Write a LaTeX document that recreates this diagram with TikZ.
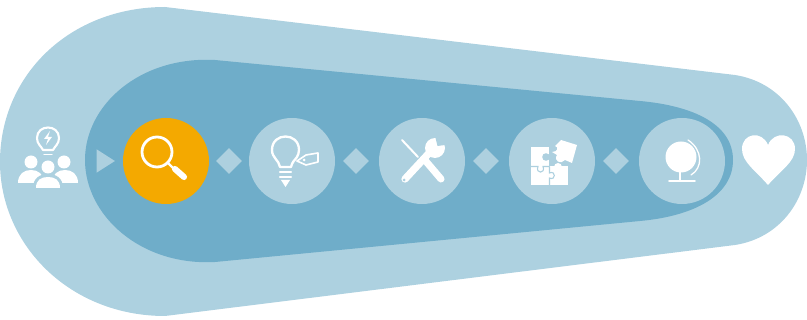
\documentclass[tikz,border=0pt]{standalone}
\usepackage{xcolor}
\usetikzlibrary{shapes.geometric}
\definecolor{funnelout}{HTML}{ADD1E0}
\definecolor{funnelin}{HTML}{6FADC9}
\definecolor{paleblue}{HTML}{ADD0DF}
\definecolor{amber}{HTML}{F4A900}
\tikzset{
 stage/.style={circle,fill=paleblue,inner sep=0pt,minimum size=2.58cm},
 link/.style={diamond,fill=paleblue,inner sep=0pt,minimum size=0.78cm},
 icon/.style={fill=white,draw=none},
 iconline/.style={draw=white,line width=1.8pt,line cap=round,line join=round},
 cut/.style={draw=paleblue,line width=0.9pt}
}
\begin{document}
\begin{tikzpicture}[x=0.03cm,y=-0.03cm]
\useasboundingbox (0,0) rectangle (807,320);
\fill[funnelout] (165,7) -- (735,75) .. controls (780,82) and (807,120) .. (807,160) .. controls (807,200) and (780,238) .. (735,245) -- (165,316) .. controls (70,316) and (0,245) .. (0,162) .. controls (0,75) and (70,7) .. (165,7) -- cycle;
\fill[funnelin] (215,60) -- (640,101) .. controls (695,106) and (733,125) .. (733,160) .. controls (733,195) and (695,216) .. (640,221) -- (215,262) .. controls (140,266) and (85,215) .. (85,160) .. controls (85,105) and (140,56) .. (215,60) -- cycle;
\node[isosceles triangle,isosceles triangle apex angle=65,fill=paleblue,inner sep=0pt,minimum height=0.54cm,minimum width=0.7cm] (start) at (103,161) {};
\node[stage,fill=amber] (search) at (166,161) {};
\node[stage] (idea) at (292,161) {};
\node[stage] (tools) at (422,161) {};
\node[stage] (puzzle) at (552,161) {};
\node[stage] (globe) at (682,161) {};
\node[link] (linka) at (229,161) {};
\node[link] (linkb) at (356,161) {};
\node[link] (linkc) at (486,161) {};
\node[link] (linkd) at (616,161) {};
% people with bulb
\draw[iconline] (43,150) .. controls (41,146) and (37,144) .. (37,138) .. controls (37,124) and (59,124) .. (59,138) .. controls (59,144) and (55,146) .. (53,150) -- cycle;
\draw[iconline,line width=1pt] (44,154.5) -- (52,154.5);
\fill[icon] (50,131) -- (44,139) -- (48,139) -- (46,145) -- (52,137) -- (48,137) -- cycle;
\fill[icon] (31,162) circle (6.5);
\fill[icon] (64,162) circle (6.5);
\fill[icon] (18,183) .. controls (18,174) and (24,170) .. (31,170) .. controls (38,170) and (44,174) .. (44,183) -- cycle;
\fill[icon] (52,183) .. controls (52,174) and (58,170) .. (65,170) .. controls (72,170) and (78,174) .. (78,183) -- cycle;
\fill[funnelout] (48,167) circle (8.5);
\fill[funnelout] (33,188) .. controls (33,178) and (40,174) .. (48,174) .. controls (56,174) and (63,178) .. (63,188) -- cycle;
\fill[icon] (48,167) circle (6.5);
\fill[icon] (36,188) .. controls (36,180) and (41,177) .. (48,177) .. controls (55,177) and (60,180) .. (60,188) -- cycle;
% magnifier
\draw[iconline,line width=2.4pt] (157,152) circle (15);
\draw[iconline,line width=2pt] (168,163) -- (173,168);
\draw[iconline,line width=5.2pt] (175,169) -- (184,177);
% bulb with tag
\draw[iconline,line width=2pt] (280,167) .. controls (279,160) and (272,158) .. (272,150) .. controls (272,132) and (299,132) .. (299,150) .. controls (299,153) and (298,155) .. (297,157) .. controls (295,160) and (292,162) .. (291,167) -- cycle;
\draw[iconline,fill=paleblue,line width=1.4pt] (297,161) -- (306,155) -- (318,153) -- (318,162) -- (306,165) -- cycle;
\fill[icon] (304,160) circle (1.5);
\draw[iconline,line width=2.1pt] (280,172) -- (291,172);
\draw[iconline,line width=2.1pt] (280,177) -- (291,177);
\fill[icon] (281,180) -- (290,180) -- (285.5,187) -- cycle;
% screwdriver and wrench
\draw[iconline,line width=1.7pt] (402,140) -- (418,157);
\draw[iconline,line width=6pt] (424,159) -- (441,179);
\draw[iconline,line width=6.2pt] (405,179) -- (431,151);
\fill[icon] (435,148) circle (10);
\fill[paleblue] (435,136) -- (437.5,146) -- (445,145) -- (449,136) -- cycle;
\fill[paleblue] (404,180) circle (1.5);
% puzzle
\fill[icon] (531,147) rectangle (568,185);
\fill[paleblue] (548.5,146) rectangle (569,166.5);
\fill[icon] (558,167) circle (4);
\fill[paleblue] (546,157) circle (3.8);
\draw[cut] (531,166.5) -- (538,166.5) .. controls (535,174) and (546,174) .. (543,166.5) -- (549.5,166.5);
\draw[cut] (549.5,166.5) -- (549.5,173) .. controls (556,170) and (556,181) .. (549.5,178) -- (549.5,185);
\fill[icon] (561,140) -- (577,145) -- (572,163) -- (565,160) .. controls (561,165) and (553,161) .. (557,155) -- (552,152) .. controls (558,152) and (559,147) .. (555,146) -- cycle;
% globe
\fill[icon] (681,157) circle (15.5);
\draw[iconline,line width=1.1pt] (688,140) .. controls (703,150) and (703,168) .. (691,175);
\draw[iconline,line width=2pt] (680,172) -- (680,180);
\draw[iconline,line width=1.5pt] (669,181) -- (695,181);
% heart
\fill[icon] (768,185) .. controls (755,170) and (742,162) .. (742,149) .. controls (742,133) and (762,130) .. (768,145) .. controls (774,130) and (795,133) .. (795,149) .. controls (795,162) and (781,170) .. (768,185) -- cycle;
\end{tikzpicture}
\end{document}
